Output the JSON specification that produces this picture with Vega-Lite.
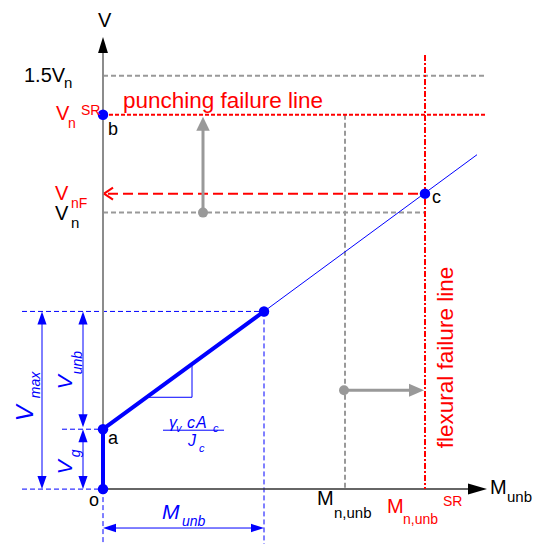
{
  "$schema": "https://vega.github.io/schema/vega-lite/v6.json",
  "width": 541,
  "height": 545,
  "padding": 0,
  "autosize": {"type": "fit", "contains": "padding"},
  "background": "white",
  "config": {"view": {"stroke": null}, "text": {"font": "Liberation Sans", "align": "left", "baseline": "alphabetic"}},
  "resolve": {"scale": {"shape": "independent"}},
  "datasets": {
    "axisV": [{"x": 0, "y": 0, "x2": 0, "y2": 437}],
    "axisH": [{"x": 0, "y": 0, "x2": 370, "y2": 0}],
    "blackHeads": [{"x": 0, "y": 453, "dir": "up"}, {"x": 384, "y": 0, "dir": "right"}],
    "grayDash": [
      {"x": 0, "y": 414, "x2": 382, "y2": 414},
      {"x": 242, "y": 375, "x2": 242, "y2": 0},
      {"x": 0, "y": 277, "x2": 322, "y2": 277}
    ],
    "redShort": [{"x": 0, "y": 375, "x2": 382, "y2": 375}],
    "redFlex": [{"x": 322, "y": 435, "x2": 322, "y2": 0}],
    "redLong": [{"x": 5, "y": 296, "x2": 322, "y2": 296}],
    "redChevron": [{"x": 1, "y": 296, "x2": 10, "y2": 302}, {"x": 1, "y": 296, "x2": 10, "y2": 290}],
    "grayArrows": [{"x": 100, "y": 277, "x2": 100, "y2": 366}, {"x": 241, "y": 99, "x2": 314, "y2": 99}],
    "grayDots": [{"x": 100, "y": 277}, {"x": 241, "y": 99}],
    "grayHeads": [{"x": 100, "y": 373, "dir": "up"}, {"x": 321, "y": 99, "dir": "right"}],
    "blueDash": [
      {"x": -81, "y": 178, "x2": 161, "y2": 178},
      {"x": -41, "y": 60, "x2": 0, "y2": 60},
      {"x": -81, "y": 0, "x2": 0, "y2": 0},
      {"x": 0, "y": 0, "x2": 0, "y2": -55},
      {"x": 161, "y": 178, "x2": 161, "y2": -55}
    ],
    "blueThin": [
      {"x": 161, "y": 178, "x2": 374, "y2": 335},
      {"x": 43.7, "y": 92, "x2": 89, "y2": 92},
      {"x": 89, "y": 92, "x2": 89, "y2": 125},
      {"x": 60, "y": 59, "x2": 121, "y2": 59},
      {"x": -61, "y": 170, "x2": -61, "y2": 8},
      {"x": -20, "y": 170, "x2": -20, "y2": 70},
      {"x": -20, "y": 52, "x2": -20, "y2": 8},
      {"x": 8, "y": -39, "x2": 153, "y2": -39}
    ],
    "blueHeads": [
      {"x": -61, "y": 178, "dir": "up"}, {"x": -61, "y": 0, "dir": "down"},
      {"x": -20, "y": 178, "dir": "up"}, {"x": -20, "y": 62, "dir": "down"},
      {"x": -20, "y": 60, "dir": "up"}, {"x": -20, "y": 0, "dir": "down"},
      {"x": 0, "y": -39, "dir": "left"}, {"x": 161, "y": -39, "dir": "right"}
    ],
    "blueThick": [{"x": 0, "y": 0, "x2": 0, "y2": 60}, {"x": 0, "y": 60, "x2": 161, "y2": 178}],
    "blueDots": [{"x": 0, "y": 0}, {"x": 0, "y": 60}, {"x": 161, "y": 178}, {"x": 0, "y": 375}, {"x": 322, "y": 296}],
    "black20": [
      {"x": -5, "y": 463, "t": "V"}, {"x": -79, "y": 408, "t": "1.5V"},
      {"x": -48, "y": 270, "t": "V"}, {"x": 214, "y": -16, "t": "M"}, {"x": 387, "y": -5, "t": "M"}
    ],
    "black14": [
      {"x": -39, "y": 402, "t": "n"}, {"x": -32, "y": 262, "t": "n"},
      {"x": 231, "y": -29, "t": "n,unb"}, {"x": 404, "y": -13, "t": "unb"}
    ],
    "black18": [
      {"x": 5, "y": 355, "t": "b"}, {"x": 5, "y": 45, "t": "a"},
      {"x": -14, "y": -17, "t": "o"}, {"x": 329, "y": 287, "t": "c"}
    ],
    "red20": [{"x": -47, "y": 370, "t": "V"}, {"x": -48, "y": 290, "t": "V"}, {"x": 284, "y": -24, "t": "M"}],
    "red14": [
      {"x": -35, "y": 362, "t": "n"}, {"x": -22, "y": 375, "t": "SR"}, {"x": -32, "y": 282, "t": "nF"},
      {"x": 300, "y": -35, "t": "n,unb"}, {"x": 340, "y": -17, "t": "SR"}
    ],
    "red22": [{"x": 20, "y": 382, "t": "punching failure line"}],
    "red22rot": [{"x": 350, "y": 41, "t": "flexural failure line"}],
    "blueRot22": [{"x": -70, "y": 68, "t": "V"}],
    "blueRot20": [{"x": -31, "y": 100, "t": "V"}, {"x": -31, "y": 15, "t": "V"}],
    "blueRot14": [{"x": -63, "y": 91, "t": "max"}, {"x": -21, "y": 115, "t": "unb"}, {"x": -23, "y": 32, "t": "g"}],
    "blue20": [{"x": 59, "y": -30, "t": "M"}],
    "blue14": [{"x": 79, "y": -37, "t": "unb"}],
    "blue16": [{"x": 66, "y": 61, "t": "γ"}, {"x": 84, "y": 61, "t": "c"}, {"x": 93, "y": 61, "t": "A"}, {"x": 85, "y": 43, "t": "J"}],
    "blue11": [{"x": 73, "y": 57, "t": "v"}, {"x": 110, "y": 57, "t": "c"}, {"x": 96, "y": 37, "t": "c"}]
  },
  "encoding": {
    "x": {"field": "x", "type": "quantitative", "scale": {"domain": [-103, 438], "nice": false, "zero": false}, "axis": null},
    "y": {"field": "y", "type": "quantitative", "scale": {"domain": [-55, 490], "nice": false, "zero": false}, "axis": null}
  },
  "layer": [
    {"data": {"name": "blueDash"}, "mark": {"type": "rule", "color": "#0000ff", "strokeWidth": 1, "strokeDash": [5, 3]}, "encoding": {"x2": {"field": "x2"}, "y2": {"field": "y2"}}},
    {"data": {"name": "grayDash"}, "mark": {"type": "rule", "color": "#999999", "strokeWidth": 2, "strokeDash": [5, 3]}, "encoding": {"x2": {"field": "x2"}, "y2": {"field": "y2"}}},
    {"data": {"name": "axisV"}, "mark": {"type": "rule", "color": "#8c8c8c", "strokeWidth": 2}, "encoding": {"x2": {"field": "x2"}, "y2": {"field": "y2"}}},
    {"data": {"name": "axisH"}, "mark": {"type": "rule", "color": "#333333", "strokeWidth": 1.5}, "encoding": {"x2": {"field": "x2"}, "y2": {"field": "y2"}}},
    {"data": {"name": "blackHeads"}, "mark": {"type": "point", "filled": true, "color": "#000000", "size": 1444, "opacity": 1},
      "encoding": {"shape": {"field": "dir", "type": "nominal", "legend": null, "scale": {"domain": ["up", "right"], "range": ["M0,0L-0.26,0.84L0.26,0.84Z", "M0,0L-1,-0.29L-1,0.29Z"]}}}},
    {"data": {"name": "redShort"}, "mark": {"type": "rule", "color": "#ff0000", "strokeWidth": 2, "strokeDash": [4, 2]}, "encoding": {"x2": {"field": "x2"}, "y2": {"field": "y2"}}},
    {"data": {"name": "redFlex"}, "mark": {"type": "rule", "color": "#ff0000", "strokeWidth": 2, "strokeDash": [6, 2, 2, 2]}, "encoding": {"x2": {"field": "x2"}, "y2": {"field": "y2"}}},
    {"data": {"name": "redLong"}, "mark": {"type": "rule", "color": "#ff0000", "strokeWidth": 2, "strokeDash": [10, 5]}, "encoding": {"x2": {"field": "x2"}, "y2": {"field": "y2"}}},
    {"data": {"name": "redChevron"}, "mark": {"type": "rule", "color": "#ff0000", "strokeWidth": 2}, "encoding": {"x2": {"field": "x2"}, "y2": {"field": "y2"}}},
    {"data": {"name": "grayArrows"}, "mark": {"type": "rule", "color": "#999999", "strokeWidth": 3}, "encoding": {"x2": {"field": "x2"}, "y2": {"field": "y2"}}},
    {"data": {"name": "grayDots"}, "mark": {"type": "point", "shape": "circle", "filled": true, "color": "#999999", "size": 100, "opacity": 1}},
    {"data": {"name": "grayHeads"}, "mark": {"type": "point", "filled": true, "color": "#999999", "size": 900, "opacity": 1},
      "encoding": {"shape": {"field": "dir", "type": "nominal", "legend": null, "scale": {"domain": ["up", "right"], "range": ["M0,0L-0.45,0.93L0.45,0.93Z", "M0,0L-1,-0.43L-1,0.43Z"]}}}},
    {"data": {"name": "blueThin"}, "mark": {"type": "rule", "color": "#0000ff", "strokeWidth": 1}, "encoding": {"x2": {"field": "x2"}, "y2": {"field": "y2"}}},
    {"data": {"name": "blueHeads"}, "mark": {"type": "point", "filled": true, "color": "#0000ff", "size": 676, "opacity": 1},
      "encoding": {"shape": {"field": "dir", "type": "nominal", "legend": null, "scale": {"domain": ["up", "down", "left", "right"], "range": ["M0,0L-0.35,1L0.35,1Z", "M0,0L-0.35,-1L0.35,-1Z", "M0,0L1,-0.32L1,0.32Z", "M0,0L-1,-0.32L-1,0.32Z"]}}}},
    {"data": {"name": "blueThick"}, "mark": {"type": "rule", "color": "#0000ff", "strokeWidth": 4, "strokeCap": "round"}, "encoding": {"x2": {"field": "x2"}, "y2": {"field": "y2"}}},
    {"data": {"name": "blueDots"}, "mark": {"type": "point", "shape": "circle", "filled": true, "color": "#0000ff", "size": 110, "opacity": 1}},
    {"data": {"name": "black20"}, "mark": {"type": "text", "fontSize": 20, "color": "#000000"}, "encoding": {"text": {"field": "t"}}},
    {"data": {"name": "black14"}, "mark": {"type": "text", "fontSize": 15, "color": "#000000"}, "encoding": {"text": {"field": "t"}}},
    {"data": {"name": "black18"}, "mark": {"type": "text", "fontSize": 18, "color": "#000000"}, "encoding": {"text": {"field": "t"}}},
    {"data": {"name": "red20"}, "mark": {"type": "text", "fontSize": 20, "color": "#ff0000"}, "encoding": {"text": {"field": "t"}}},
    {"data": {"name": "red14"}, "mark": {"type": "text", "fontSize": 14, "color": "#ff0000"}, "encoding": {"text": {"field": "t"}}},
    {"data": {"name": "red22"}, "mark": {"type": "text", "fontSize": 22.5, "color": "#ff0000"}, "encoding": {"text": {"field": "t"}}},
    {"data": {"name": "red22rot"}, "mark": {"type": "text", "fontSize": 22.5, "color": "#ff0000", "angle": 270}, "encoding": {"text": {"field": "t"}}},
    {"data": {"name": "blueRot22"}, "mark": {"type": "text", "fontSize": 24, "color": "#0000ff", "angle": 270, "fontStyle": "italic"}, "encoding": {"text": {"field": "t"}}},
    {"data": {"name": "blueRot20"}, "mark": {"type": "text", "fontSize": 21, "color": "#0000ff", "angle": 270, "fontStyle": "italic"}, "encoding": {"text": {"field": "t"}}},
    {"data": {"name": "blueRot14"}, "mark": {"type": "text", "fontSize": 14, "color": "#0000ff", "angle": 270, "fontStyle": "italic"}, "encoding": {"text": {"field": "t"}}},
    {"data": {"name": "blue20"}, "mark": {"type": "text", "fontSize": 21, "color": "#0000ff", "fontStyle": "italic"}, "encoding": {"text": {"field": "t"}}},
    {"data": {"name": "blue14"}, "mark": {"type": "text", "fontSize": 14, "color": "#0000ff", "fontStyle": "italic"}, "encoding": {"text": {"field": "t"}}},
    {"data": {"name": "blue16"}, "mark": {"type": "text", "fontSize": 16, "color": "#0000ff", "fontStyle": "italic"}, "encoding": {"text": {"field": "t"}}},
    {"data": {"name": "blue11"}, "mark": {"type": "text", "fontSize": 11, "color": "#0000ff", "fontStyle": "italic"}, "encoding": {"text": {"field": "t"}}}
  ]
}
